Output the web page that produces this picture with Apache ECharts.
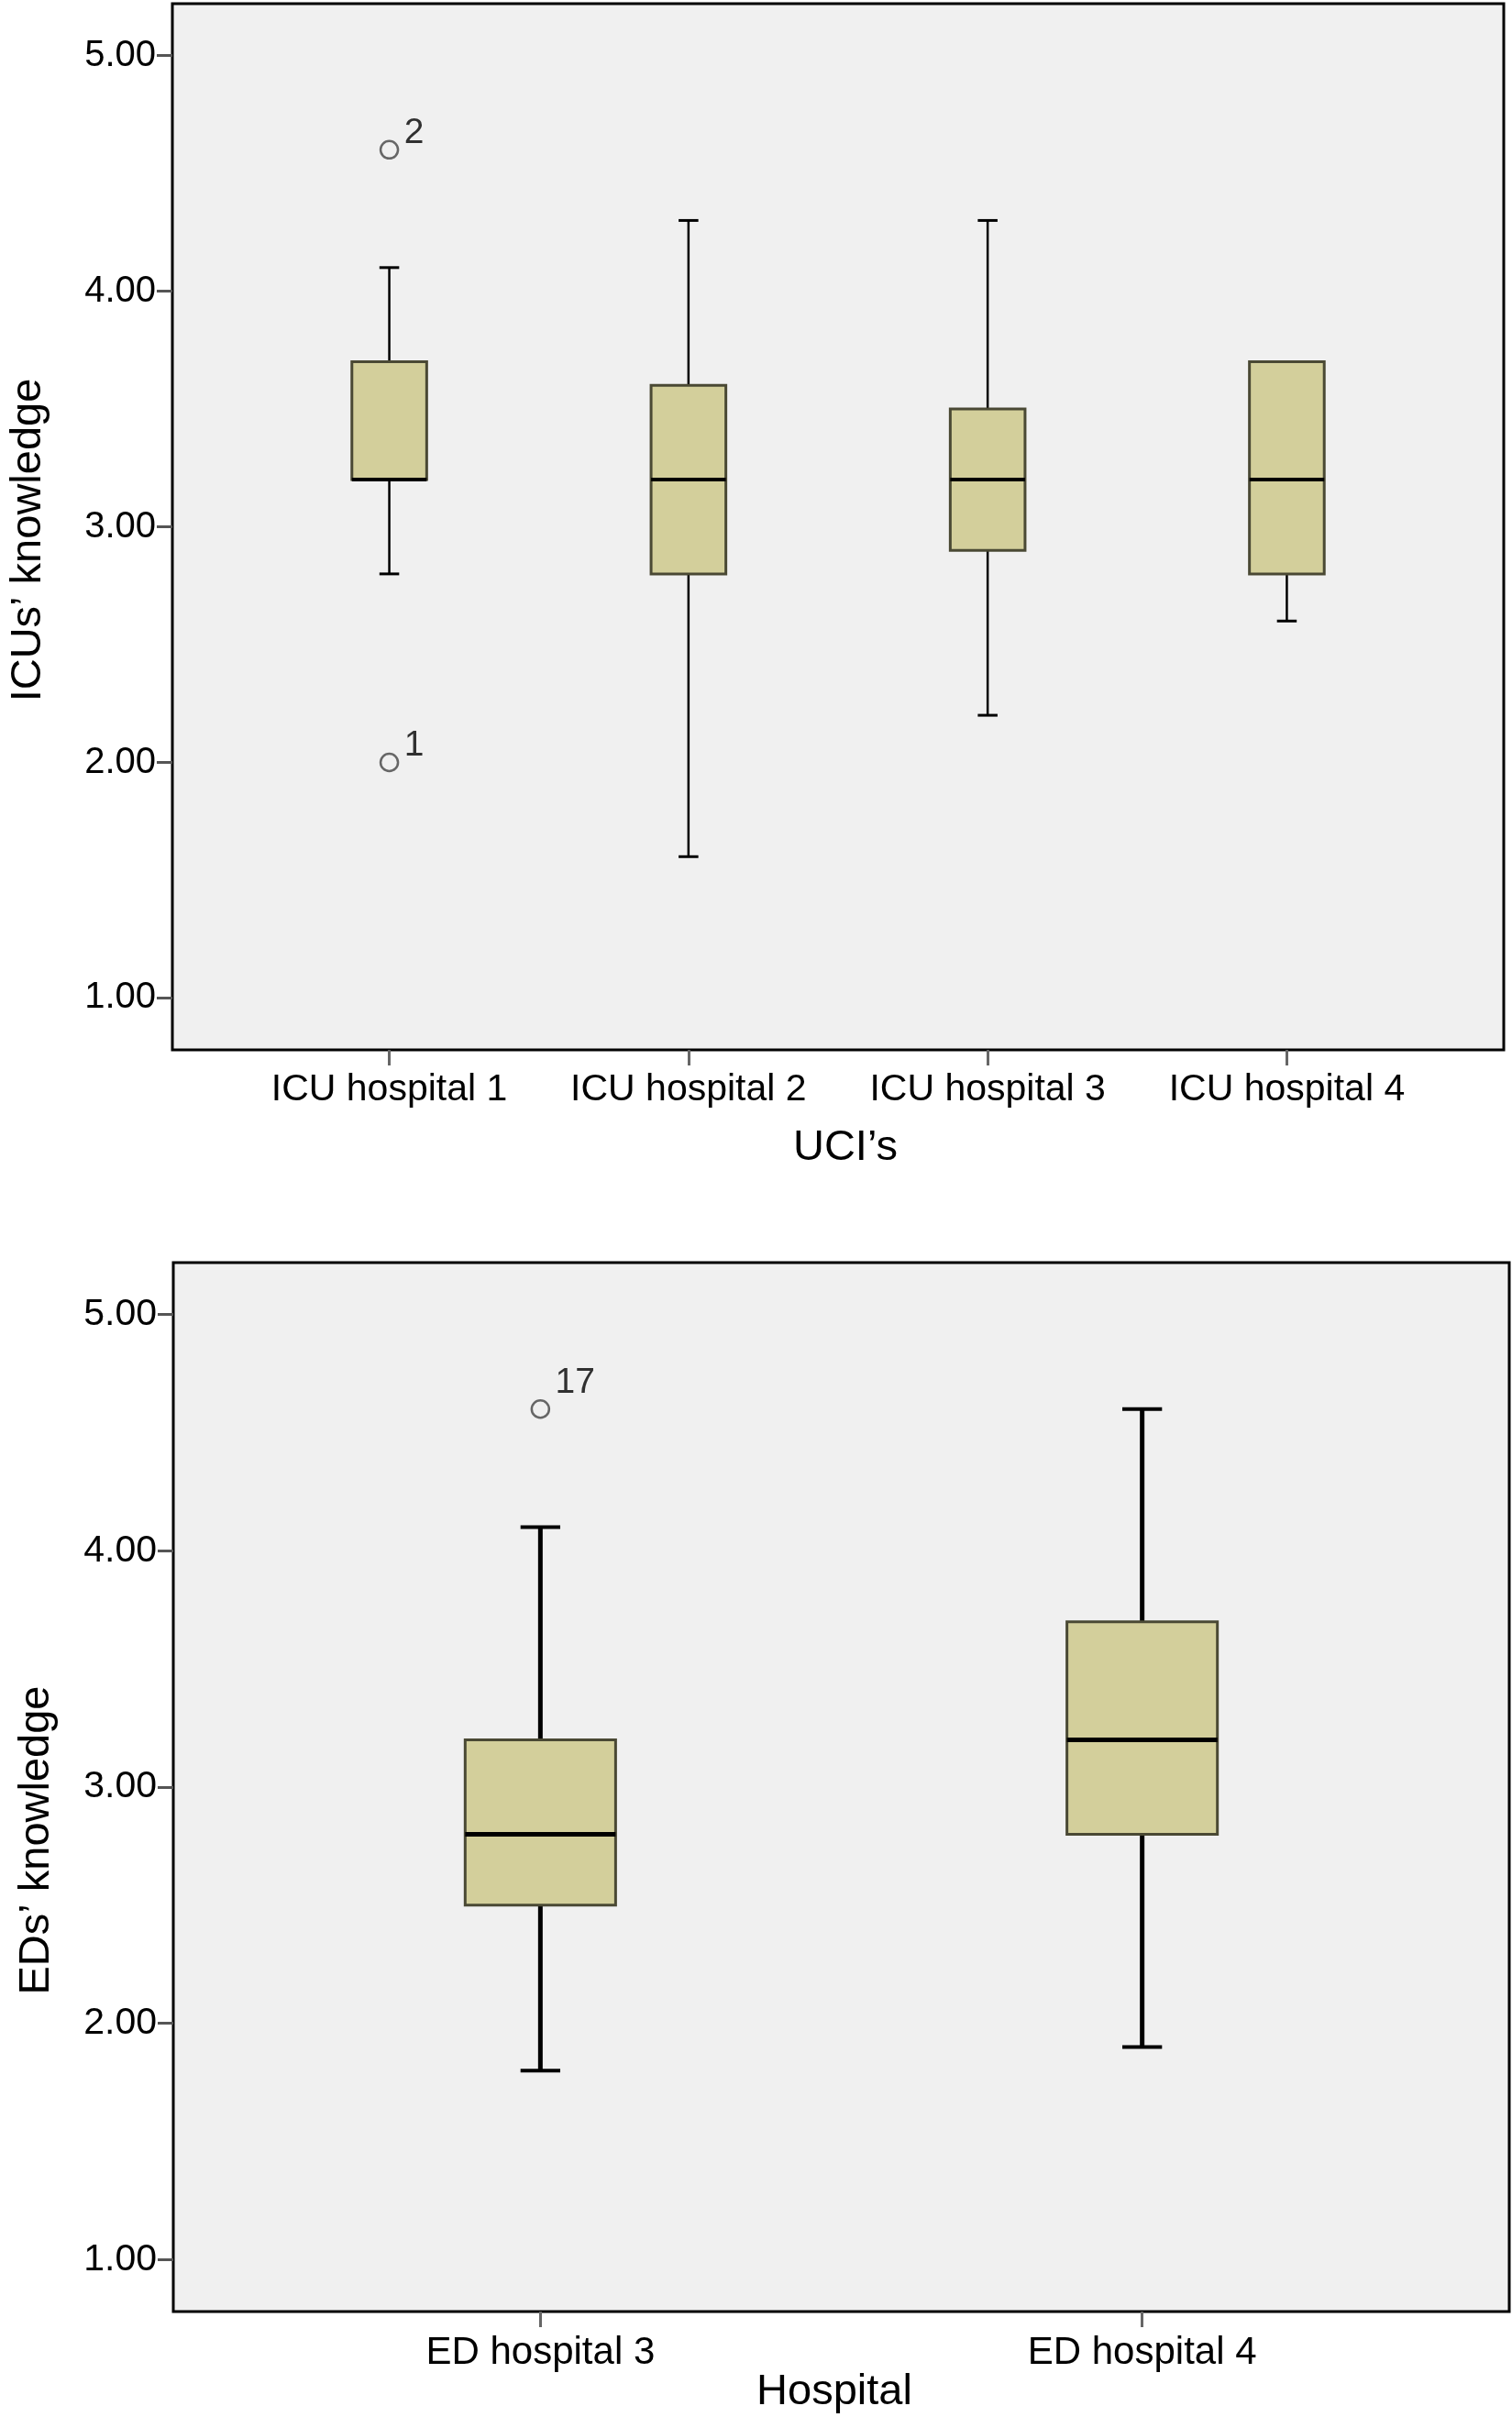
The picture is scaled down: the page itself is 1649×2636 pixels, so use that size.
<!DOCTYPE html>
<html>
<head>
<meta charset="utf-8">
<script src="https://cdn.jsdelivr.net/npm/echarts@6/dist/echarts.min.js"></script>
<style>
  html, body { margin: 0; padding: 0; background: #ffffff; }
  #chart { width: 1649px; height: 2636px; }
</style>
</head>
<body>
<div id="chart"></div>
<script>
// ---- Data ----
const icuCategories = ['ICU hospital 1', 'ICU hospital 2', 'ICU hospital 3', 'ICU hospital 4'];
// [min whisker, Q1, median, Q3, max whisker]
const icuBoxes = [
  [2.8, 3.2, 3.2, 3.7, 4.1],
  [1.6, 2.8, 3.2, 3.6, 4.3],
  [2.2, 2.9, 3.2, 3.5, 4.3],
  [2.6, 2.8, 3.2, 3.7, 3.7]
];
// [category position, value, case label]
const icuOutliers = [
  [1, 4.6, '2'],
  [1, 2.0, '1']
];

const edCategories = ['ED hospital 3', 'ED hospital 4'];
const edBoxes = [
  [1.8, 2.5, 2.8, 3.2, 4.1],
  [1.9, 2.8, 3.2, 3.7, 4.6]
];
const edOutliers = [
  [1, 4.6, '17']
];

const yTickValues = [1, 2, 3, 4, 5];
const icuTitleY = 'ICUs’ knowledge';
const icuTitleX = 'UCI’s';
const edTitleY = 'EDs’ knowledge';
const edTitleX = 'Hospital';

// ---- Styling ----
const FONT = '"Liberation Sans", Arial, Helvetica, sans-serif';
const FILL = '#d3cf9b';
const BOX_BORDER = '#4a4934';

function makeRender(st) {
  return function (params, api) {
    const x = api.value(0);
    const vMin = api.value(1), vQ1 = api.value(2), vMed = api.value(3), vQ3 = api.value(4), vMax = api.value(5);
    const pMin = api.coord([x, vMin]);
    const pQ1 = api.coord([x, vQ1]);
    const pMed = api.coord([x, vMed]);
    const pQ3 = api.coord([x, vQ3]);
    const pMax = api.coord([x, vMax]);
    const cx = pMed[0];
    const unit = api.size([1, 0])[0];
    const hb = unit * 0.125;
    const hc = unit * 0.033;
    const children = [];
    if (vMax > vQ3) {
      children.push({ type: 'line', shape: { x1: cx, y1: pQ3[1], x2: cx, y2: pMax[1] }, style: { stroke: '#000', lineWidth: st.whisker } });
      children.push({ type: 'line', shape: { x1: cx - hc, y1: pMax[1], x2: cx + hc, y2: pMax[1] }, style: { stroke: '#000', lineWidth: st.cap } });
    }
    if (vMin < vQ1) {
      children.push({ type: 'line', shape: { x1: cx, y1: pQ1[1], x2: cx, y2: pMin[1] }, style: { stroke: '#000', lineWidth: st.whisker } });
      children.push({ type: 'line', shape: { x1: cx - hc, y1: pMin[1], x2: cx + hc, y2: pMin[1] }, style: { stroke: '#000', lineWidth: st.cap } });
    }
    children.push({ type: 'rect', shape: { x: cx - hb, y: pQ3[1], width: 2 * hb, height: pQ1[1] - pQ3[1] },
      style: { fill: FILL, stroke: BOX_BORDER, lineWidth: st.border } });
    children.push({ type: 'line', shape: { x1: cx - hb, y1: pMed[1], x2: cx + hb, y2: pMed[1] }, style: { stroke: '#000', lineWidth: st.median } });
    return { type: 'group', children: children };
  };
}

function xAxisFor(gridIndex, cats, min, max, fontSize, margin) {
  const vals = cats.map((c, i) => i + 1);
  return {
    type: 'value', gridIndex: gridIndex, min: min, max: max,
    splitLine: { show: false },
    axisLine: { show: false },
    axisTick: { show: true, customValues: vals, length: 17, inside: false, lineStyle: { color: '#666', width: 3 } },
    axisLabel: {
      show: true, customValues: vals, margin: margin,
      formatter: function (v) { return cats[Math.round(v) - 1] || ''; },
      fontFamily: FONT, fontSize: fontSize, color: '#000'
    }
  };
}

function yAxisFor(gridIndex, fontSize) {
  return {
    type: 'value', gridIndex: gridIndex, min: 0.78, max: 5.22,
    splitLine: { show: false },
    axisLine: { show: false },
    axisTick: { show: true, customValues: yTickValues, length: 17, lineStyle: { color: '#555', width: 3 } },
    axisLabel: {
      show: true, customValues: yTickValues, margin: 18,
      formatter: function (v) { return v.toFixed(2); },
      fontFamily: FONT, fontSize: fontSize, color: '#000'
    }
  };
}

function outlierSeries(idx, data, labelPos) {
  return {
    type: 'scatter', xAxisIndex: idx, yAxisIndex: idx,
    data: data.map(d => ({ value: [d[0], d[1]], name: d[2] })),
    symbol: 'circle', symbolSize: 19,
    itemStyle: { color: 'rgba(0,0,0,0)', borderColor: '#444', borderWidth: 2.5 },
    label: {
      show: true, position: labelPos, align: 'left', verticalAlign: 'bottom',
      formatter: function (p) { return p.name; },
      fontFamily: FONT, fontSize: 39, color: '#000'
    },
    z: 5
  };
}

const chart = echarts.init(document.getElementById('chart'), null, { renderer: 'canvas' });

const option = {
  backgroundColor: '#ffffff',
  animation: false,
  grid: [
    { left: 188, right: 9, top: 4, height: 1141, show: true, backgroundColor: '#f0f0f0', borderColor: '#000', borderWidth: 3, containLabel: false },
    { left: 189, right: 3, top: 1377, height: 1144, show: true, backgroundColor: '#f0f0f0', borderColor: '#000', borderWidth: 3, containLabel: false }
  ],
  xAxis: [
    xAxisFor(0, icuCategories, 0.275, 4.725, 41, 23),
    xAxisFor(1, edCategories, 0.39, 2.61, 42, 24)
  ],
  yAxis: [
    yAxisFor(0, 40),
    yAxisFor(1, 41)
  ],
  series: [
    {
      type: 'custom', xAxisIndex: 0, yAxisIndex: 0,
      renderItem: makeRender({ whisker: 2.5, cap: 3, border: 3, median: 4 }),
      encode: { x: 0, y: [1, 2, 3, 4, 5] },
      data: icuBoxes.map((b, i) => [i + 1].concat(b))
    },
    outlierSeries(0, icuOutliers, [27, 12]),
    {
      type: 'custom', xAxisIndex: 1, yAxisIndex: 1,
      renderItem: makeRender({ whisker: 5, cap: 4, border: 3, median: 5 }),
      encode: { x: 0, y: [1, 2, 3, 4, 5] },
      data: edBoxes.map((b, i) => [i + 1].concat(b))
    },
    outlierSeries(1, edOutliers, [27, 2])
  ],
  graphic: [
    { type: 'text', x: 31, y: 589, rotation: Math.PI / 2,
      style: { text: icuTitleY, fontFamily: FONT, fontSize: 47, fill: '#000', align: 'center', verticalAlign: 'middle' } },
    { type: 'text', x: 922, y: 1252,
      style: { text: icuTitleX, fontFamily: FONT, fontSize: 47, fill: '#000', align: 'center', verticalAlign: 'middle' } },
    { type: 'text', x: 40, y: 2007, rotation: Math.PI / 2,
      style: { text: edTitleY, fontFamily: FONT, fontSize: 47, fill: '#000', align: 'center', verticalAlign: 'middle' } },
    { type: 'text', x: 910, y: 2609,
      style: { text: edTitleX, fontFamily: FONT, fontSize: 47, fill: '#000', align: 'center', verticalAlign: 'middle' } }
  ]
};

chart.setOption(option);
</script>
</body>
</html>
